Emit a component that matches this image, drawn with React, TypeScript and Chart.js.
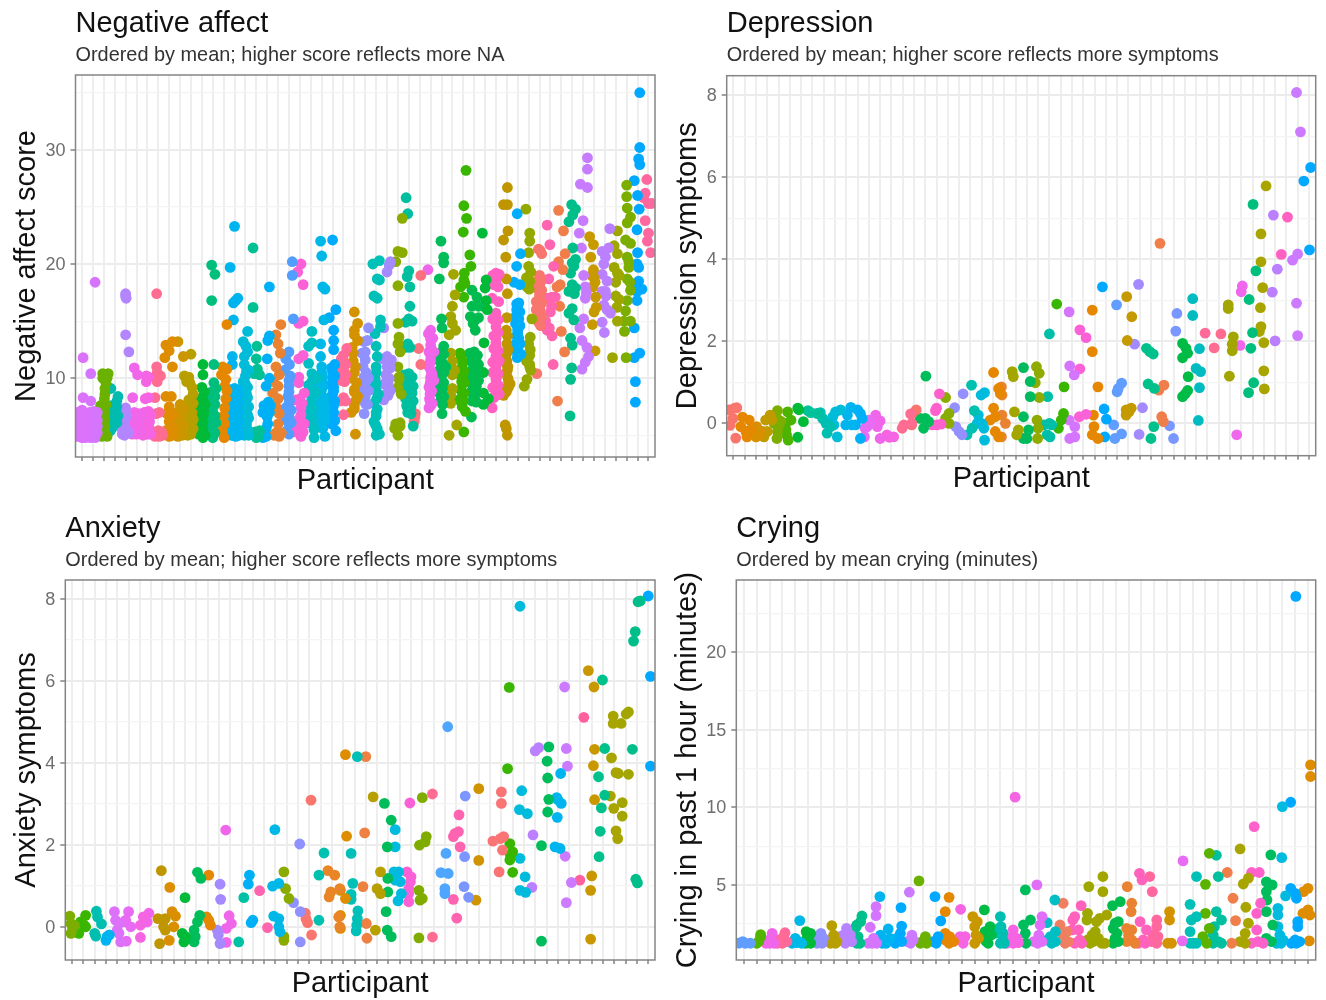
import React, { useEffect, useRef } from "react";
import { Chart, registerables } from "chart.js";

Chart.register(...registerables);

const FONT = '"Liberation Sans", Arial, sans-serif';

// Each row is one participant: jitter offset and score, alternating.
const naColors = ["#DC71FA","#D575FE","#6BB100","#00BCB0","#B385FF","#F066EA","#F564E3","#FF6C91","#DE8C00","#CD9600","#B79F00","#00BA38","#00BF7D","#E58700","#00B4EF","#00BCD8","#00C094","#00B0F6","#EA8331","#529EFF","#FB61D7","#00BFC4","#00B8E7","#00ABFD","#FF6A98","#D39200","#8F91FF","#00C0B8","#A58AFF","#8AAB00","#00BF9E","#FC717F","#F066EA","#00BC59","#A3A500","#39B600","#00BB4E","#00BA38","#FF61C3","#BF9600","#00AEFB","#94A900","#F8766D","#FF64B0","#F07E4B","#00BE8A","#C77CFF","#C79A00","#BB80FF","#9DA700","#7CAE00","#00A9FF","#FF689F"];
const naPoints = [
[.1,11.8,.1,8.3,-.4,7,0,7.2,.3,6.9,-.4,6.4,-.1,6.5,.3,6.3,-.4,5.8,0,5.9,.3,5.7,-.4,5.2,-.1,5.2,.3,5.1,-.4,4.9,0,4.8,.3,4.8],
[-.2,10.4,.2,18.4,-.2,8,-.3,7,.1,7.1,.4,7,-.3,6.5,.1,6.4,.4,6.3,-.3,5.8,.1,5.7,.4,5.8,-.3,5.2,.1,5.1,.4,5.2,-.2,4.8,.2,4.8],
[-.1,10.4,.4,10.4,-.1,10,.3,10,.2,9.6,.1,9.1,.1,8.6,.05,8.2,-.3,7.6,.2,7.7,.1,7,.1,6.4,.1,5.8,.1,5.3,-.2,4.9,.3,4.9],
[-.35,9.1,.3,8.4,.2,8,-.3,7.6,.2,7.5,-.4,7,.1,7.1,.3,6.7,-.3,6.4,0,6.2,.2,6.1,-.2,5.7,-.4,5.4],
[0,17.4,0,17.2,.05,17,0,13.8,.3,12.3,0,7.4,-.1,7.1,.1,6.7,-.3,6.5,-.1,6.2,-.35,5.6,0,5.6,.3,5.2,-.3,5.1,-.1,5,0,5.2],
[-.2,10.9,.1,10.3,-.35,8.3,-.2,7,.2,6.9,-.2,6.3,.2,6.3,.4,6.7,-.3,5.8,.1,5.7,.3,5.3,-.4,5.1,0,5.1],
[-.1,10.2,-.1,9.7,-.2,8.2,.1,8.3,.1,10.1,-.3,7,.1,7.1,.3,6.8,-.2,6.3,.2,6.2,-.3,5.7,.1,5.8,-.4,5,0,5.1,.3,5.1],
[-.15,17.4,-.15,11,-.1,10.5,.2,10.2,-.2,10,-.1,9.7,-.3,8.3,.1,7,-.2,6.9,-.4,5.3,0,5.4,.3,5.3,-.3,4.9,.1,4.9,.4,5],
[.3,13.2,-.3,12.9,0,12.4,-.4,11.8,.3,11,-.3,8.4,.2,8.4,0,7.5,-.2,6.9,.3,6.8,0,6.2,.3,5.6,-.3,5.4,0,4.9,.3,5],
[-.2,13.2,.3,11.9,0,7.7,.3,7.3,-.3,7,.1,6.6,-.2,6,.3,5.9,0,5.3,-.2,4.9,.2,5,0,6.2,.1,5.6,-.1,6.4,.1,7],
[0,12.1,-.2,10.1,-.6,10.2,-.4,9.7,-.1,9.6,.1,9.2,.2,8.6,-.2,8.1,.2,7.8,-.3,7.3,.1,7,-.2,6.5,.2,6.4,-.1,5.8,.2,5.6,0,5.1,-.3,5],
[.1,11.2,.1,10.3,0,9.2,.2,8.8,-.4,8.2,.1,8.1,.3,7.7,-.2,7.4,.2,7,-.1,6.8,.1,6.5,-.3,5.1,.1,4.8,.3,5,0,7.7,0,7.2,.1,6.2,-.1,5.8,.1,5.6],
[-.1,19.9,.2,19.1,-.1,16.8,.1,11.2,.1,9.6,.3,9.1,-.1,8.8,.2,8.4,-.3,8.1,.2,7.7,0,7,-.3,6.8,.2,6.7,-.2,6.1,.3,6.1,0,5.6,-.3,5.2,.2,5.2,0,4.8,0,6.4,0,7.4,0,8.2],
[.3,14.7,-.1,11,.3,10.8,-.2,10.3,.2,9.9,.1,9.3,.3,8.9,.2,8.2,.1,7.4,0,6.7,.1,6,-.1,5.4,.05,4.8],
[0,23.3,-.4,19.7,-.1,15.1,.3,17,.1,16.8,-.1,16.6,-.2,11.9,-.2,11.2,-.4,9,0,9.1,.3,9,-.5,8.4,-.1,8.3,.3,8.5,-.5,7.8,0,7.6,.3,7.8,-.5,7,-.1,7.1,.3,7,-.5,6.2,0,6.4,.3,6.2,-.4,5.6,0,5.7,.4,5.5,-.3,5,.1,4.9,.4,5,-.3,8.7,.1,8.7,-.2,8,.2,8.1,-.3,7.4,.1,7.4,-.3,6.7,.1,6.8,-.2,6,.2,6,-.2,5.3,.2,5.3],
[.2,14.1,-.2,13.2,.2,12.3,-.1,11.9,-.1,11.2,.1,10.6,.3,10.7,-.2,9.7,.2,9.2,0,9,-.3,8.4,.2,8.3,-.1,7.8,.3,7.5,-.3,7.1,.1,7,.3,6.5,-.2,6.3,.1,6,-.3,5.6,.2,5.5,-.1,5,.3,5,0,9.5,0,10.2,-.1,8.8,.1,8.6,0,8,-.1,7.4,.2,6.8,-.1,6.7,0,5.7,.1,5.3,.05,12.8],
[-.3,21.4,-.3,16.2,.05,12.8,0,11.7,.1,10.8,.3,10.3,-.2,10.4,-.1,5.3,.3,5.4,0,4.8,.2,4.9],
[.2,18,.2,13.7,.05,13.3,0,11.7,.2,10,-.1,9.3,.1,7.9,-.3,7.6,.3,7.6,-.4,7,0,7.2,.2,7,.05,6,-.1,5.6,-.4,4.8,-.1,4.9,0,6.6,.1,7.5],
[.25,14.7,-.2,13.8,0,13,.2,12.2,-.2,11,.1,10.3,-.4,9.7,0,9.3,-.5,8.7,0,8.2,-.2,7.5,.1,6.9,0,6,-.2,5.2,.3,5.2,-.4,5,.1,4.9],
[.3,20.2,.3,19,.4,15.2,0,12.3,-.3,11.7,-.4,10.7,.05,11.2,0,9.3,-.1,8.4,-.3,7.4,.2,7.2,-.3,6.4,.2,6.1,0,5.1,-.2,5.4,-.3,6.9,0,8.8,0,7.8,-.1,7,0,6.6,-.1,6.2,.05,8.1,.1,10.2,0,9.8],
[.1,20,-.2,19.3,.3,18.2,-.1,14.8,.3,15,.3,12,-.1,11.7,-.1,10.1,-.1,9.6,.4,8.7,-.4,8.1,0,8.2,.1,7.4,-.1,6.4,.4,6,-.5,5.3,.1,4.9,.3,5.3,-.1,5.4,.1,6.8,.2,7.8,.1,6.2,-.1,5.9],
[.1,14.1,-.2,12.8,.1,13.1,-.2,11.3,.1,10.4,.6,10,-.2,9.4,.5,8.8,0,7.8,0,6.7,.3,5.5,.3,4.8,-.3,6.9,.2,6.5,.1,9.7,-.1,9,.2,8.5,.1,8.2,-.1,7.3,.2,7.3,.1,6,-.1,6.2,.2,5.9],
[-.1,22,0,20.7,.1,18,.3,17.8,.2,15.1,-.1,13,-.1,11.9,0,11,.1,10.1,-.3,9.3,.1,9.3,-.2,8.6,.2,8.3,-.1,7.8,.3,7.4,-.2,7,.1,6.7,.3,6.3,-.1,6.1,.1,5.6,.3,4.9,0,10.5,0,9.7,0,9,0,8,.2,7.8,0,7.3,-.1,6.6,.1,6.3,.3,6.7],
[0,22.1,.3,16,-.3,15.3,.1,14.2,.1,13.3,.1,12.5,.2,11.2,-.1,10.9,.05,10,-.2,9.4,.1,8.9,-.2,8.3,.2,8,-.1,7.4,.1,7,-.2,6.6,.2,6.3,.3,5.4,-.1,6,0,10.5,.2,10.2,0,9.7,.1,9.2,0,8.6,-.1,7.9,.1,7.6,0,6.8,.1,6.2],
[.3,12.6,0,12,-.2,11.7,.2,11.2,0,10.7,-.3,10.5,.2,10.3,0,10,-.2,9.8,.1,9.7,0,8.3,-.3,8,.2,8,0,6.8,0,11.5,0,10.8,0,10.2],
[0,15.8,.3,14.8,0,14.2,.3,13.3,-.2,12.7,-.3,10,0,9,.3,8.4,0,7.6,-.3,7,.1,5.1,.2,9.6,.1,11,0,13.8,-.1,12.2,-.1,11.5,0,10.5,0,8.8,.1,8,0,7.3],
[.3,14.4,-.1,13.2,.2,13.3,-.3,12.2,0,12.3,-.2,11,.1,10.5,-.1,10.1,.3,10,-.3,9,.1,9,.3,8.9,0,7.8,.2,7.7,-.1,6.9,0,11.6,0,9.6,0,8.4],
[-.3,20,.3,20.3,.1,18.7,.3,18.6,-.2,17.2,.1,17,.4,15.1,.4,14.5,-.1,13.9,0,12.8,.1,11.9,0,11,-.1,10,-.2,9.2,.2,8.6,-.2,7.8,.1,7.3,0,6.7,-.2,6.2,.1,5.6,.3,5.1,0,5,0,10.5,0,9.5,0,8.9,.05,8.2,0,7,-.05,5.9],
[.2,19.9,.3,20.2,0,19.3,-.3,14.4,-.4,11.7,0,11.9,.4,11.6,0,11,.3,10.9,-.1,10.3,.2,10,-.3,9.5,.1,9.3,.3,8.9,-.3,8.1,0,9.8,.1,9.6,0,8.7,.1,8.5],
[.4,24,.4,21,0,21.1,-.2,20.2,0,18.1,0,14.8,.1,13.6,.2,12.3,0,11,.1,10.1,0,9.2,.3,8.6,-.2,6,-.3,5.6,0,5,.2,6.1,.2,5.8,.1,9.9,0,13],
[-.25,25.8,-.1,24.4,0,19.4,-.15,18.9,.1,18,.1,16.3,0,15.2,.3,15,-.3,14.9,-.1,13,-.3,12.7,.1,12.7,-.4,10.3,0,10.4,.3,10.1,-.3,9.7,0,9.6,.4,9.3,-.4,9,0,9,.3,8.7,-.3,8.2,.1,8.3,.4,8,-.2,7.6,.2,7.5,-.1,7,.2,6.9,.4,5.8,-.1,9.9,.2,9.4,-.2,8.6,.1,8,-.1,7.4,.1,7.2],
[.1,19,-.1,12.6,.1,11.2,-.4,6.9,-.5,6.2,-.45,6.6],
[-.25,19.5,0,14.2,-.2,13.9,.2,13.5,0,12.9,-.15,12.3,.3,12.3,0,11.6,-.15,11,.15,10.3,0,9.8,-.15,9.2,.3,9.8,-.05,8.6,-.15,7.4,.15,7.8,-.1,8.2,.1,8.9,0,13.4,.05,12.6,0,12,-.05,11.3,.05,10.6,0,10.1,-.05,9.5,0,9,-.05,8,0,7.6],
[-.05,22,.2,20.6,.2,20.1,-.2,18.7,0,15.2,.05,14.4,.2,12.8,-.2,12.2,.2,12.1,-.3,11.6,.1,11.3,.4,11,-.2,10.7,.2,10.5,-.1,10,.2,9.6,-.3,9.5,.1,9.1,-.2,8.7,.2,8.4,-.1,8,.1,7.7,.05,6.9,0,11.9,0,11,0,10.2,0,9.3,0,8.9,0,8.3],
[.1,19.1,.25,17.3,0,16.3,-.15,15.4,0,14.8,.3,14.2,-.3,13.8,-.15,12.2,0,11.5,.2,10.7,0,10.3,0,9.1,-.15,8.5,-.15,7.8,.4,5.9,-.3,5],
[.25,28.2,.05,25.1,.3,24,0,22.8,.6,20.8,.7,19.8,.1,19.2,.05,18.6,-.25,18,.15,18.3,.05,17.1,-.3,12.2,-.1,11.5,.05,10.6,-.25,9,.05,8.7,-.4,8.1,-.1,7.5,.2,7.1,.05,5.3,.1,9.6,-.2,10.2,-.2,11.8,-.1,11,-.05,10.2,-.15,9.7,-.1,8.4,0,8,-.1,7.8],
[-.2,17.7,.25,17.1,-.2,16.3,.4,16.3,-.35,15.4,.1,15.1,.4,15.3,.1,14.2,-.1,14.8,-.4,12.2,0,12.3,.3,12,-.3,11.5,.1,11.6,.4,11.2,-.2,10.7,.2,10.8,-.4,10.2,.1,10.1,.4,9.8,-.2,9.5,.2,9.3,-.3,8.8,.1,8.6,-.2,8,.2,7.9,-.25,6.6,0,11.9,.2,11.3,0,11,.2,10.3,0,9.8,.1,9.2,-.1,9,0,8.3,.1,8],
[-.25,22.7,.1,18.6,0,17.9,-.15,16.3,-.1,13.1,-.15,10.5,-.15,8.7,.3,8.2,-.15,7.7,.1,16.8,.2,16],
[0,19.2,-.3,19,.3,19.1,0,18.5,-.2,18.2,.2,18,-.35,17,.25,16.7,0,15.7,-.3,15.2,.2,15.1,0,14.5,.2,14,-.2,13.7,0,13.1,-.2,12.6,.2,12.4,0,11.9,-.3,11.4,.3,11.5,0,11,-.3,10.5,.2,10.4,0,9.9,.2,9.4,-.3,9.2,0,8.8,-.2,8.3,.3,8.6,-.35,7.4,0,15.3,0,13.5,0,12.8,.05,12,0,11.5,0,10.7,.05,10.1,0,9.5,0,8.5],
[.05,26.7,-.3,25.2,.05,25.2,.1,22.9,-.3,22.1,-.1,20.6,-.05,18.7,.05,17.4,0,15.3,-.05,14.2,.05,13.7,0,13,.1,12.5,-.1,12,0,11.5,.1,11,-.05,10.4,.3,9.5,0,9,.15,9.2,-.15,5.9,-.05,5.6,.05,5,-.3,8.5,0,12.2,0,11.2,.05,10.7,.1,10,.15,9.7,.1,9.3,-.05,8.8],
[-.05,24.4,.25,20.9,-.1,19.8,-.35,18.4,.2,18.2,-.1,16.5,.1,16.6,-.1,16,.2,15.8,-.2,15.4,.1,15.2,-.2,14.8,.2,14.6,0,14.2,-.1,13.7,.1,13.5,-.2,13,.2,13,0,12.6,-.3,12.5,.3,12.1,-.05,11.8,0,16.3,0,15.6,0,15,0,14.4,0,13.9,0,13.2,0,12.4,-.1,12.8],
[-.25,24.8,.1,22.7,.1,22,0,21,0,19.8,.2,19.3,-.2,18.8,.1,18.5,-.15,18,.05,17.8,.3,15.2,.15,13.6,0,13,.15,12.5,.1,12,-.2,11.5,.1,11.2,.2,10.7,-.15,9.9,-.4,9.3,.1,11],
[.05,21.2,-.1,21.3,.2,20.9,0,19,-.2,18.5,.1,18.4,-.3,17.9,.2,17.7,0,17.2,-.3,16.7,.2,16.6,-.3,16,.05,16,-.2,15.4,.2,15.4,-.1,14.9,.1,14.6,-.25,10.4,0,18.8,0,18,0,17.5,0,16.9,0,16.3,0,15.7,0,15.2],
[-.3,23.4,-.05,21.7,.3,19.8,-.15,18.7,.15,17.1,-.3,17,.45,17.1,0,15.8,-.45,15,-.3,14.2,.15,13.7,.25,11.2,.1,16.3,-.1,14.4],
[-.25,24.7,.2,22.9,.35,20.9,-.25,20.2,-.1,18.2,-.4,18,-.15,16.3,0,14.1,.3,12.3,-.35,8,.15,19.5],
[-.05,25.2,.3,24.8,.05,24.3,-.3,23.7,.05,21.4,0,20.1,-.15,19.2,.3,20.4,0,18.2,.3,17.9,-.3,17.6,0,16.1,-.3,15.7,.15,15.1,-.15,13.5,0,12.9,-.05,10.9,-.15,9.9,-.2,6.7,.15,19.8,.2,17.4],
[.4,29.3,.4,28.3,-.25,27,.4,26.7,0,23.8,-.35,22.7,-.15,21.4,.05,19,.2,18,.2,17,.05,15.2,-.3,14.4,-.1,13.3,.35,12.7,.5,11.9,.2,11.4,-.1,10.8,.3,17.5],
[-.4,22.4,-.05,21.7,-.3,20.6,-.05,19.5,0,18.8,.1,18.4,-.1,18,.15,17.1,0,15.8,-.15,14.7,.1,12.4,-.2,19,.2,16.2],
[.45,23.1,.35,21.4,-.25,21.1,-.1,20,-.25,19.1,.2,18.5,.05,17.6,-.25,17.6,-.1,16.4,.2,16,.5,15.7,-.25,14.9,-.05,14,.05,20.6,.1,17.2],
[.15,22.9,-.15,21.6,.15,20.9,-.15,19.7,.15,19.2,0,18.4,0,17.2,.3,16.9,.15,15,-.3,11.8,.3,19,.1,16.2],
[0,26.9,0,25.9,.05,24.9,.35,24.1,.05,23.6,-.1,22.1,.35,21.8,.05,20.6,.2,19.7,.05,18.7,.35,17.7,.05,16.8,-.1,15.9,-.25,15,.35,15,-.2,14.1,-.05,11.8,.2,20.2,.3,18.4],
[.2,35,.2,30.2,.1,29.2,.2,28.7,-.3,27.3,0,26,.15,24.8,-.05,23,0,21,-.05,20,.1,19.7,-.05,18.2,.4,17.8,-.05,17.6,-.05,16.8,-.3,14.4,.2,12.2,-.3,11.8,-.2,9.7,-.2,7.9,.1,18.5],
[-.15,27.4,-.3,26.2,-.45,25.8,0,25.3,.3,25.3,-.3,23.8,0,22.7,-.1,22,.2,21],
];

const depColors = ["#F8766D","#E58700","#D89000","#C09B00","#7CAE00","#4CB400","#00BA38","#00C19A","#00BFB0","#00BCD8","#00B4F0","#00B0F6","#E76BF3","#F066EA","#F564E3","#FF6C91","#F8766D","#00BC59","#FF61CC","#8AAB00","#9590FF","#00C0AF","#00BBDB","#E58700","#EA8331","#A3A500","#00BA5E","#8FAA00","#00BFA8","#39B600","#D575FE","#FB61D7","#E58700","#00A9FF","#619CFF","#C49A00","#A58AFF","#00C08B","#F07E4B","#7997FF","#00BB45","#00BCC0","#FF6A98","#FF6C91","#A3A500","#EE67EC","#00BF7D","#A8A400","#BB80FF","#FF61C3","#CC7AFF","#00A9FF"];
const depPoints = [
[.1,.37,-.35,.33,-.05,.12,-.3,-.05,.2,-.36,.3,.38],
[-.2,.15,.4,.08,-.35,-.08,.1,-.2,.5,-.16,.2,-.33],
[.05,-.08,.3,-.18,-.3,-.2,0,-.33,.4,-.25],
[.25,.2,-.15,.08,.4,.08,-.4,-.2,-.3,-.33,0,-.2],
[-.1,.31,-.15,.12,-.4,0,.05,-.04,-.1,-.2,-.15,-.37,.2,.05],
[-.2,.28,.1,.08,-.35,0,-.35,-.16,-.15,-.41,-.3,-.28],
[-.3,.37,.2,.04,-.3,-.34,-.2,.33],
[-.4,.31,-.15,.26,.4,.24],
[-.3,.26,-.1,.12,.2,0,.3,-.24,.6,-.08],
[.05,.28,-.2,.16,-.1,-.04,.2,-.33,.5,.33],
[.4,.39,.1,.2,-.05,-.04,.5,-.04],
[0,.33,.25,.24,-.2,-.04,.25,-.37,.4,.12],
[0,.08,-.15,-.08,.15,0,-.4,-.33,-.35,-.12],
[-.4,.2,0,.06,0,-.37,-.25,-.08],
[-.4,-.28,.2,-.33,-.2,-.34],
[-.05,-.12,.7,.23,.8,0,.1,-.04],
[.2,.33,-.2,.23,-.2,-.04],
[.05,1.15,-.45,.12,0,.12,.3,.04,-.15,-.12],
[.25,.72,0,.37,-.1,.31,-.4,-.04,0,-.04,.4,-.02],
[-.2,.63,.1,.24,-.2,.12,.1,0],
[.35,.72,-.4,.38,-.3,-.08,0,-.2,.25,-.28],
[.1,.93,.35,.31,.15,-.12,-.3,-.28],
[.25,.75,-.05,.69,-.3,.2,0,0,-.4,0,.2,-.12,.25,-.41],
[.05,1.24,.5,.85,.65,.73,.05,.37,.2,.16,-.25,.08,.2,-.2,.5,-.33],
[-.25,.89,-.2,.69,-.2,.2,.1,0,-.25,-.33],
[-.3,1.26,-.2,1.14,-.1,.28,.25,-.16,.1,-.28],
[-.3,1.36,.3,1.02,-.3,.16,.3,.65,.15,-.16,-.3,-.37,0,-.37],
[-.15,1.38,.1,1.22,-.25,.99,.1,.63,-.1,.08,0,-.12,-.05,-.37],
[0,2.18,-.15,.65,0,0,-.2,-.28,.2,-.04,-.5,-.04,.05,-.33],
[-.35,2.91,.3,.89,.25,.24,.05,.08,-.2,-.12],
[-.25,2.72,-.2,1.4,.2,1.18,-.25,.08,.25,-.08,-.2,-.37,.25,-.33],
[-.3,2.28,.25,2.09,-.3,1.33,-.35,.16,.25,.22],
[-.2,2.76,-.2,1.75,.3,.89,-.1,.2,-.05,-.08,-.2,-.28,.3,-.37],
[-.3,3.33,-.15,.35,.05,.1,-.1,-.33],
[-.05,2.89,.4,.98,0,.77,-.3,-.04,-.2,-.37,.4,-.26,.1,.85],
[-.15,3.09,.3,2.6,-.1,2.02,.25,.37,-.2,.33,-.2,.2,.05,.28],
[-.1,3.39,-.45,1.93,.25,.38,-.05,-.27],
[-.4,1.83,-.1,1.75,.2,1.69,-.25,.96,.3,.85,.25,-.08,0,-.37],
[-.2,4.39,.15,.93,-.3,.81,-.05,.16,.1,.04],
[.3,2.68,.2,2.25,-.35,-.06,0,-.37],
[-.2,1.95,.1,1.83,.25,1.71,-.2,1.6,.3,1.14,.25,.8,-.2,.65,.05,.72],
[-.3,3.04,-.3,2.63,.3,1.82,0,1.34,.4,1.26,.3,.87,.2,.07],
[-.2,2.2],
[.2,2.18,-.4,1.84],
[-.15,2.89,-.15,2.8,.3,2.11,.2,1.93,.2,1.77,-.05,1.15],
[.1,3.35,0,3.21,-.1,1.9,-.4,-.28],
[.05,5.34,.3,3.72,-.3,3.02,0,2.21,-.15,1.83,.1,.99,-.35,.75],
[.2,5.79,-.25,4.62,-.25,3.94,-.1,3.31,-.3,2.82,-.25,2.36,-.4,2.24,0,1.97,0,1.28,.05,.84],
[-.15,5.08,.2,3.76,-.25,3.2,0,2.01],
[.1,5.03,-.45,4.12],
[-.1,8.07,.25,7.11,-.45,3.98,0,4.13,-.1,2.93,0,2.14],
[.15,6.24,-.45,5.91,.05,4.23],
];

const anxColors = ["#7CAE00","#39B600","#00BFB0","#00B4F0","#DC71FA","#E76BF3","#F564E3","#F066EA","#BF9600","#DB8E00","#00BA38","#00BD5C","#E58700","#A58AFF","#F066EA","#00C1A3","#00B0F6","#FF64B0","#00B8E7","#8AAB00","#8F91FF","#F8766D","#00C0AF","#E88526","#DE8C00","#00C0B8","#EE8042","#B79F00","#00BC59","#00BAE0","#FB61D7","#80AC00","#FF6C91","#4EA6FF","#FF64B0","#7C96FF","#CF9400","#FA7476","#FA7476","#39B600","#00BBDB","#BB80FF","#00BD5C","#00B4F0","#CC7AFF","#FF619E","#C99800","#00C08B","#A8A400","#A3A500","#00BE8A","#00A9FF"];
const anxPoints = [
[-.2,.26,-.1,.08,.05,-.04,-.1,-.16,.2,.04],
[.2,.28,-.25,.12,.2,0,-.4,-.16,.05,.04],
[.15,.38,.25,.24,.6,.07,0,-.16,.1,-.23],
[.3,-.2,0,-.33,.1,-.24],
[-.25,.37,-.15,.16,.15,.08,0,-.08,.3,-.37,.15,-.16],
[0,.37,-.25,.16,.2,0,-.2,-.35,-.4,.12],
[.3,.24,.05,.04,.05,-.26],
[-.2,.33,-.5,.2,-.35,.12],
[-.1,1.37,-.4,.2,.25,.2,-.25,-.41,.1,0,.25,-.08],
[-.35,.96,-.15,.37,.15,.26,0,0,-.4,-.33],
[0,.71,-.25,-.16,-.1,-.37,.05,-.24],
[.1,1.33,.4,1.18,.3,.28,.1,.12,-.2,-.08,-.1,-.24,-.2,-.37],
[.1,1.26,-.1,.24,.1,.16,.25,.04],
[.1,1.04,.15,.67,-.15,-.08,-.05,-.2,.1,-.41],
[-.4,2.36,-.1,.27,.1,.08,-.35,-.04,-.35,-.38],
[.2,.71,-.25,-.37],
[-.3,1.26,-.4,1.04,0,.16,-.15,.1],
[-.4,.88,.3,-.02],
[-.05,2.37,-.25,.99,.3,1.06,-.15,.26,.3,.2,.3,0,.4,-.12],
[-.25,1.34,-.1,.93,.2,.69,-.25,-.24,-.25,-.33],
[.15,2.02,-.4,.59,.2,.37,.2,-.37],
[.15,3.09,-.35,.33,-.3,.2,-.15,.1,.2,-.2],
[.3,1.8,-.15,1.26,-.15,.16],
[-.35,1.37,.25,1.26,.7,.93,-.25,.73,-.1,.85,.6,.24,.7,0],
[.2,4.2,.3,2.21,-.25,.89,.2,.69,-.25,.28,-.25,-.04],
[.25,4.15,-.3,1.79,-.15,1.06,-.3,.79,-.3,.67,.3,.39,.25,.2,.2,.04,.15,-.1],
[0,4.15,-.1,2.29,-.25,.98,.05,.08,.1,-.28],
[-.35,3.17,.3,1.34,0,.93,.3,.81,-.15,-.08],
[-.35,3.01,.25,2.6,-.1,1.95,-.05,1.18,-.05,.85,-.2,.37,-.1,-.08,.25,-.24],
[-.4,2.37,-.4,1.95,-.5,1.34,-.1,1.34,-.4,1.14,.05,1.1,.15,.81,-.15,.63],
[-.1,3.02,-.35,1.34,0,1.22,-.05,1.1,-.2,.93,-.2,.81,-.2,.61],
[0,3.15,.35,2.2,-.25,1.99,.25,2.07,-.3,.89,-.2,.65,0,.69,-.3,-.27],
[-.1,3.24,-.1,-.25],
[.25,4.88,.1,1.79,-.35,1.32,.3,1.3,0,.93,0,.81],
[.25,2.73,.2,2.32,-.25,2.2,-.1,2.28,.35,1.95,-.25,.67,.05,.21],
[-.2,3.19,-.25,1.71,-.3,.98,.1,.72],
[0,3.37,0,1.62,-.25,.65],
[.25,2.09],
[0,3.29,0,3.01,.2,2.2,-.1,2.15,.1,1.87,-.2,1.34],
[-.3,5.84,-.45,3.86,-.25,2.03,0,1.83,-.2,1.75,-.25,1.63,0,1.33],
[-.35,7.82,-.2,3.32,-.4,2.86,.3,2.76,-.35,1.67,.1,1.22,-.35,.89,.15,.84],
[0,4.29,.3,4.37,-.2,2.24,-.3,.96],
[.2,4.39,.05,4.04,.1,3.63,.2,3.11,.1,2.8,-.45,1.98,-.45,-.35],
[.25,3.74,-.1,3.15,.3,3.01,-.05,2.67,-.25,1.95,.2,1.91,0,3.1],
[-.4,5.85,-.25,4.35,-.15,3.92,-.35,1.72,.2,1.08,-.25,.59],
[.3,5.11,-.05,1.14],
[-.3,6.25,.2,5.85,.25,4.33,.15,3.93,.25,3.1,0,1.24,-.1,.89,-.1,-.3],
[-.05,6.02,.15,4.35,-.4,3.66,.15,3.21,-.15,2.9,-.25,2.33,-.35,1.71],
[-.25,4.12,.15,3.76,-.35,3.19,-.05,2.89,.15,2.34,.3,2.15,-.1,5.14,-.1,4.96],
[-.4,4.96,.05,5.19,.25,5.24,.25,3.72,-.3,3.03,-.3,2.7,-.65,3.74],
[-.4,4.33,-.15,7.2,-.3,6.97,.1,7.93,.3,7.95,-.1,1.16,.05,1.07],
[0,8.07,.2,6.11,.2,3.92],
];

const cryColors = ["#619CFF","#53B400","#F066EA","#FF6A98","#00B8E7","#00BA38","#8F91FF","#B79F00","#B983FF","#00C08B","#D575FE","#00B4F0","#00ABFD","#CC7AFF","#6BB100","#00A9FF","#E58700","#F564E3","#C99800","#00BC45","#00BFB0","#F564E3","#00BD5C","#E06EF6","#00BFC4","#F07E60","#FF62BC","#9DA700","#A3A500","#00BB4E","#EA8331","#FF62BC","#FF689F","#D39200","#E76BF3","#00C0B8","#5BB300","#00C0A0","#F07E4B","#A8A400","#FF61CC","#00BD5C","#00BAE0","#00A9FF","#DE8C00"];
const cryPoints = [
[-.4,1.24,.1,1.24,.5,1.24,-.1,1.35],
[.3,1.67,0,1.24,.15,1.35,.3,1.8],
[.2,1.88,-.3,1.24,.1,1.56,0,1.24,.35,1.24],
[.2,1.92,-.3,1.45,.1,1.67,.35,1.35,0,1.24,-.4,1.24],
[.35,2.7,0,1.56,-.25,1.24,.25,1.35,.5,1.24,.1,1.28],
[-.15,1.99,.2,1.88,-.1,1.56,.2,1.24,-.2,1.24,.05,1.4],
[0,1.88,-.2,1.56,.2,1.56,-.3,1.24,.1,1.24],
[-.15,2.38,0,1.77,-.25,1.24,.15,1.24,-.1,1.56,.25,1.35],
[0,2.2,-.25,1.77,.3,1.77,-.35,1.45,0,1.45,.4,1.35,-.1,1.24,-.5,1.67],
[.2,3,.1,2.63,-.2,2.42,-.25,2.3,-.1,1.67,.05,1.24,-.2,1.24],
[.3,3.6,.3,3.02,-.15,2.27,.1,1.56,-.3,1.24,.35,1.24,0,1.24],
[-.4,4.25,-.35,1.77,.25,2.16,0,1.45,.4,1.56,.1,1.24,-.2,1.24],
[.25,3.54,.3,2.35,.2,1.88,-.1,1.56,-.2,1.24,.3,1.35],
[-.1,4.53,.1,1.77,-.3,1.35,.2,1.45,0,1.24],
[-.35,5.26,.15,1.67,-.1,1.35,.25,1.24,-.25,1.24],
[-.1,4.25,.35,2.68,.15,1.67,-.25,1.35,0,1.24],
[0,4.2,-.3,3.28,-.3,1.88,.05,1.67,.35,1.35,0,1.24,-.3,1.45],
[-.1,3.43,-.15,1.67,.25,1.67,.1,1.24],
[-.15,2.96,.2,2.63,0,2.31,.1,1.77,0,1.24,.3,1.56],
[-.25,3.39,-.2,1.99,.2,2.31,-.35,1.56,-.1,1.35,.3,1.77,.05,1.24],
[0,2.96,-.1,2.2,.05,2.31,-.3,1.9,.2,1.9,.2,1.45,0,1.24,.3,1.24],
[.15,10.66,0,2.1,-.35,1.56,.3,1.56,0,1.24,-.5,1.24,.4,1.28],
[-.05,4.68,.35,2.74,-.2,2.42,-.05,1.88,0,1.24],
[-.15,5,.25,2.96,.1,2.42,0,1.77,-.4,1.35,.25,1.35,-.1,1.24],
[.25,4.03,-.35,2.57,.3,1.99,-.1,1.67,-.35,1.45,.3,1.35,0,1.24],
[-.1,3.82,-.35,2.42,-.1,1.77,.2,1.99,.05,1.24,.3,1.35],
[.3,3.67,-.2,2.96,-.35,2.74,.1,2.1,-.4,2.1,.2,1.45,-.2,1.24,.35,1.24],
[-.1,4.89,-.2,3.17,-.25,2.74,.4,1.99,.15,1.77,-.2,1.45,.25,1.35,0,1.24],
[0,5.54,0,4.57,-.25,2.85,.3,3.06,-.5,2.63,-.1,1.24,.15,1.24,-.35,1.56],
[.35,3.92,-.25,3.67,-.05,2.53,.2,2.63,-.2,2.2,.1,1.88,-.05,1.56,-.2,1.24,.2,1.35],
[-.1,4.89,.25,3.82,.2,3.28,-.15,2.2,.25,2.1,0,1.77,.25,1.45,-.15,1.35,.5,1.24],
[-.15,5.75,.05,5.32,-.1,2.63,.4,2.1,.15,1.45,-.25,1.24,.3,1.24],
[-.35,5.54,-.15,4.57,.2,2.74,.2,2.31,-.1,1.77,.3,1.67,.2,1.24,-.2,1.35],
[.2,3.28,.2,2.74,.05,1.24,.35,1.24],
[.25,6.55,.2,1.39],
[.3,5.54,-.2,3.75,-.1,2.74,.3,2.96,-.2,1.99,.05,1.24,.3,1.24,-.2,1.24],
[0,5.04,.3,7.04,0,3.17,.3,2.2,-.2,1.67,.1,1.24],
[-.15,6.91,0,5.54,-.15,3.28,.25,2.74,-.3,2.31,-.4,1.77,0,1.35,.25,1.24,-.4,1.24],
[-.3,5.8,.15,4.14,.35,2.7,.05,1.24],
[-.3,7.32,-.05,5.06,.35,5.43,.15,3.56,.35,2.53,.1,1.88,-.3,1.35,.1,1.24],
[-.2,8.76,-.4,5.8,.2,5.8,.3,3.82,0,3.17,0,2.1,-.4,1.24,.1,1.35,.5,1.24],
[.1,6.94,-.25,5.2,.2,5,-.25,4.57,-.2,4.03,-.25,3.28,.25,2.42,-.25,1.56,.15,1.35],
[0,10.05,-.05,6.76,.25,4.29,-.35,3.49,-.35,3.06,-.35,2.31,-.2,1.77,.05,1.45,-.1,1.24,-.45,1.24],
[.05,23.6,-.35,10.33,-.35,4.78,0,4.46,.1,4.14,.2,2.63,.2,2.31,0,1.45,-.3,1.24,.35,1.35,.1,1.24],
[.2,12.74,.2,11.99,0,4.78,-.35,4.57,0,3.39,-.4,3.17,.15,3.06,.1,1.39],
];

const naMajor = [10, 20, 30];
const naMinor = [5, 15, 25, 35];
const symptomMajor = [0, 2, 4, 6, 8];
const symptomMinor = [1, 3, 5, 7];
const cryMajor = [5, 10, 15, 20];
const cryMinor = [2.5, 7.5, 12.5, 17.5, 22.5];

const panels = [
  { title: "Negative affect", subtitle: "Ordered by mean; higher score reflects more NA", yTitle: "Negative affect score", colors: naColors, points: naPoints, major: naMajor, minor: naMinor, yMin: 3.1, yMax: 36.55,
    box: { left: 0, top: 0, width: 663, height: 500 }, plot: { left: 75.5, top: 75, right: 655, bottom: 457 }, yTitleInset: 12.5 },
  { title: "Depression", subtitle: "Ordered by mean; higher score reflects more symptoms", yTitle: "Depression symptoms", colors: depColors, points: depPoints, major: symptomMajor, minor: symptomMinor, yMin: -0.79, yMax: 8.48,
    box: { left: 663, top: 0, width: 663, height: 500 }, plot: { left: 63.7, top: 75.7, right: 652.7, bottom: 455.7 }, yTitleInset: 10.5 },
  { title: "Anxiety", subtitle: "Ordered by mean; higher score reflects more symptoms", yTitle: "Anxiety symptoms", colors: anxColors, points: anxPoints, major: symptomMajor, minor: symptomMinor, yMin: -0.81, yMax: 8.46,
    box: { left: 0, top: 505, width: 663, height: 495 }, plot: { left: 65.3, top: 75, right: 655, bottom: 455 }, yTitleInset: 12.5 },
  { title: "Crying", subtitle: "Ordered by mean crying (minutes)", yTitle: "Crying in past 1 hour (minutes)", colors: cryColors, points: cryPoints, major: cryMajor, minor: cryMinor, yMin: 0.16, yMax: 24.66,
    box: { left: 663, top: 505, width: 663, height: 495 }, plot: { left: 73.3, top: 75, right: 652.7, bottom: 455 }, yTitleInset: 10.5 },
];

const panelBorder = {
  id: "panelBorder",
  afterDatasetsDraw(chart) {
    const { ctx, chartArea: a } = chart;
    ctx.save();
    ctx.strokeStyle = "#858585";
    ctx.lineWidth = 1.5;
    ctx.strokeRect(a.left, a.top, a.right - a.left, a.bottom - a.top);
    ctx.restore();
  },
};

function Panel({ spec }) {
  const ref = useRef(null);
  useEffect(() => {
    const { box, plot, colors, points, major, minor } = spec;
    const xTicks = colors.map((_, i) => ({ value: i + 1 }));
    const yTicks = [...major, ...minor].filter((v) => v >= spec.yMin && v <= spec.yMax).map((value) => ({ value }));
    const isMajor = (v) => major.includes(v);
    const xAxisHeight = 38;
    const chart = new Chart(ref.current, {
      type: "scatter",
      data: {
        datasets: points.map((row, i) => {
          const data = [];
          for (let k = 0; k < row.length; k += 2) data.push({ x: i + 1 + row[k], y: row[k + 1] });
          return { data, backgroundColor: colors[i], borderWidth: 0, pointRadius: 5.4, pointHoverRadius: 5.4 };
        }),
      },
      options: {
        animation: false,
        responsive: false,
        events: [],
        layout: { padding: { left: 0, top: 0, right: box.width - plot.right, bottom: box.height - plot.bottom - xAxisHeight } },
        plugins: {
          legend: { display: false },
          tooltip: { enabled: false },
          title: { display: true, text: spec.title, align: "start", fullSize: false, color: "#111", font: { family: FONT, size: 29, weight: "normal", lineHeight: 1 }, padding: { top: 9, bottom: 8 } },
          subtitle: { display: true, text: spec.subtitle, align: "start", fullSize: false, color: "#333", font: { family: FONT, size: 19.9, weight: "normal", lineHeight: 1 }, padding: { top: 0, bottom: plot.top - 65.9 } },
        },
        scales: {
          x: {
            type: "linear",
            min: 0.4,
            max: colors.length + 0.6,
            afterBuildTicks: (s) => { s.ticks = xTicks; },
            afterFit: (s) => { s.height = xAxisHeight; },
            grid: { color: "#EEEEEE", lineWidth: 2, tickColor: "#444", tickLength: 4, tickWidth: 1 },
            border: { display: false },
            ticks: { autoSkip: false, maxRotation: 0, callback: () => "", padding: 0 },
            title: { display: true, text: "Participant", color: "#111", font: { family: FONT, size: 29, lineHeight: 1 }, padding: 0 },
          },
          y: {
            min: spec.yMin,
            max: spec.yMax,
            afterBuildTicks: (s) => { s.ticks = yTicks; },
            afterFit: (s) => { s.width = plot.left; },
            grid: {
              color: (c) => (isMajor(c.tick.value) ? "#ECECEC" : "#F4F4F4"),
              lineWidth: (c) => (isMajor(c.tick.value) ? 2 : 1.2),
              tickColor: (c) => (isMajor(c.tick.value) ? "#444" : "rgba(0,0,0,0)"),
              tickLength: 5,
              tickWidth: 1,
            },
            border: { display: false },
            ticks: { autoSkip: false, labelOffset: 1, callback: (v) => (isMajor(v) ? String(v) : ""), color: "#6E6E6E", font: { family: FONT, size: 18 }, padding: 5 },
            title: { display: true, text: spec.yTitle, color: "#111", font: { family: FONT, size: 29, lineHeight: 1 }, padding: { top: spec.yTitleInset, bottom: 0 } },
          },
        },
      },
      plugins: [panelBorder],
    });
    return () => chart.destroy();
  }, [spec]);
  const { box } = spec;
  return <canvas ref={ref} width={box.width} height={box.height} style={{ position: "absolute", left: box.left, top: box.top, width: box.width, height: box.height, display: "block", filter: "blur(0.5px)" }} />;
}

export default function App() {
  return (
    <div style={{ position: "absolute", left: 0, top: 0, width: 1326, height: 1000, background: "#fff", overflow: "hidden" }}>
      {panels.map((p) => <Panel key={p.title} spec={p} />)}
    </div>
  );
}
